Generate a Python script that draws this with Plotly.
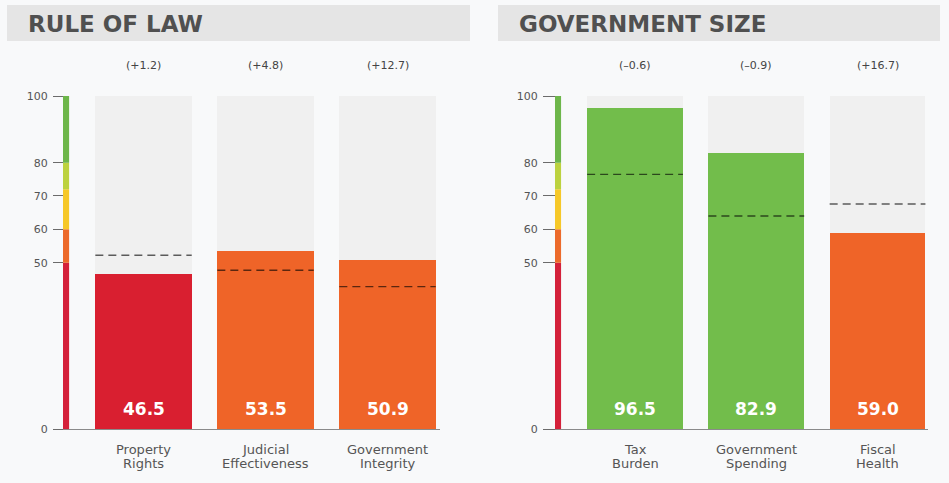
import plotly.graph_objects as go

W, H = 949, 483

# ---- data ----
panel_titles = ["RULE OF LAW", "GOVERNMENT SIZE"]
left_categories = ["Property<br>Rights", "Judicial<br>Effectiveness", "Government<br>Integrity"]
left_scores = [46.5, 53.5, 50.9]
left_changes = ["(+1.2)", "(+4.8)", "(+12.7)"]
left_averages = [52.2, 47.7, 42.8]

right_categories = ["Tax<br>Burden", "Government<br>Spending", "Fiscal<br>Health"]
right_scores = [96.5, 82.9, 59.0]
right_changes = ["(–0.6)", "(–0.9)", "(+16.7)"]
right_averages = [76.5, 64.0, 67.6]

y_ticks = [0, 50, 60, 70, 80, 100]
band_edges = [0, 50, 60, 72, 80, 100]
band_colors = ["#d4213a", "#ec6a2a", "#f6c828", "#bcd23f", "#6db64a"]
bar_band_colors = ["#d91f30", "#ef6428", "#f6c828", "#bcd23f", "#72bd4b"]

PAPER_BG = "#f8f9fa"
COL_BG = "#f0f0f0"
HEADER_BG = "#e5e5e5"
TEXT = "#555555"


def px_x(x):
    return x / W


def px_y(y):
    return 1 - y / H


def color_for(v):
    for i in range(len(band_edges) - 1):
        if v < band_edges[i + 1]:
            return bar_band_colors[i]
    return bar_band_colors[-1]


fig = go.Figure()
panels = [
    dict(cats=left_categories, scores=left_scores, changes=left_changes, avgs=left_averages,
         xa="x", ya="y", dom=(53, 440), rng=(-0.742, 2.43), ypos=63, ticklen=10, hx=(7, 470), tx=26),
    dict(cats=right_categories, scores=right_scores, changes=right_changes, avgs=right_averages,
         xa="x2", ya="y2", dom=(543, 928), rng=(-0.759, 2.416), ypos=555, ticklen=12, hx=(498, 940), tx=517),
]

shapes = []
annotations = []
BW = 0.79
for p_i, p in enumerate(panels):
    n = len(p["cats"])
    xs = list(range(n))
    # column backgrounds
    fig.add_trace(go.Bar(x=xs, y=[100] * n, width=BW, marker_color=COL_BG, marker_line_width=0,
                         xaxis=p["xa"], yaxis=p["ya"], hoverinfo="skip", showlegend=False))
    # score bars
    fig.add_trace(go.Bar(x=xs, y=p["scores"], width=BW,
                         marker_color=[color_for(v) for v in p["scores"]], marker_line_width=0,
                         xaxis=p["xa"], yaxis=p["ya"], showlegend=False))
    # average dashed lines
    for i, a in enumerate(p["avgs"]):
        fig.add_trace(go.Scatter(x=[i - BW / 2, i + BW / 2], y=[a, a], mode="lines",
                                 line=dict(color="rgba(0,0,0,0.62)", width=1.4, dash="8px,5px"),
                                 xaxis=p["xa"], yaxis=p["ya"], hoverinfo="skip", showlegend=False))
    # score strip
    for b in range(len(band_colors)):
        shapes.append(dict(type="rect", xref=p["xa"], yref=p["ya"], x0=-0.66, x1=-0.61,
                           y0=band_edges[b], y1=band_edges[b + 1], fillcolor=band_colors[b],
                           line_width=0, layer="above"))
    # header
    shapes.append(dict(type="rect", xref="paper", yref="paper", x0=px_x(p["hx"][0]), x1=px_x(p["hx"][1]),
                       y0=px_y(41), y1=px_y(5), fillcolor=HEADER_BG, line_width=0, layer="below"))
    annotations.append(dict(xref="paper", yref="paper", x=px_x(p["tx"]), y=px_y(24), xanchor="left",
                            yanchor="middle", showarrow=False, text="<b>%s</b>" % panel_titles[p_i],
                            font=dict(family="DejaVu Sans", size=23, color="#505050")))
    for i in range(n):
        # value labels
        annotations.append(dict(xref=p["xa"], yref=p["ya"], x=i, y=0, yshift=20, yanchor="middle",
                                showarrow=False, text="<b>%.1f</b>" % p["scores"][i],
                                font=dict(family="DejaVu Sans", size=17, color="white")))
        # change labels
        annotations.append(dict(xref=p["xa"], yref="paper", x=i, y=px_y(65), yanchor="middle",
                                showarrow=False, text=p["changes"][i],
                                font=dict(family="DejaVu Sans", size=11, color="#444444")))
        # category labels (two lines)
        for li, line in enumerate(p["cats"][i].split("<br>")):
            annotations.append(dict(xref=p["xa"], yref="paper", x=i, y=px_y(449 + 14 * li),
                                    yanchor="middle", showarrow=False, text=line,
                                    font=dict(family="DejaVu Sans", size=13, color=TEXT)))

    xkey = "xaxis" if p_i == 0 else "xaxis2"
    ykey = "yaxis" if p_i == 0 else "yaxis2"
    fig.layout[xkey] = dict(domain=[px_x(p["dom"][0]), px_x(p["dom"][1])], range=list(p["rng"]),
                            anchor=p["ya"], showticklabels=False, ticks="", automargin=False,
                            showgrid=False, zeroline=False, showline=True, linecolor="#8a8a8a",
                            linewidth=1, fixedrange=True)
    fig.layout[ykey] = dict(domain=[px_y(429.3), px_y(96)], range=[0, 100],
                            anchor="free", position=px_x(p["ypos"]), side="left",
                            tickvals=y_ticks, ticks="outside", ticklen=p["ticklen"], tickcolor="#6b6b6b",
                            tickwidth=1, showgrid=False, zeroline=False, showline=False,
                            ticklabelstandoff=3, automargin=False,
                            tickfont=dict(family="DejaVu Sans", size=11, color=TEXT), fixedrange=True)

fig.update_layout(
    width=W, height=H, margin=dict(l=0, r=0, t=0, b=0, pad=0, autoexpand=False),
    paper_bgcolor=PAPER_BG, plot_bgcolor="rgba(0,0,0,0)",
    barmode="overlay", bargap=0, shapes=shapes, annotations=annotations, showlegend=False,
)

post = (
    "var h=document.documentElement, b=document.body;"
    "h.style.margin='0'; h.style.padding='0'; h.style.overflow='hidden'; h.style.height='483px';"
    "b.style.margin='0'; b.style.padding='0'; b.style.overflow='hidden'; b.style.height='483px';"
    "b.style.background='" + PAPER_BG + "';"
    "if (b.firstElementChild) { b.firstElementChild.style.height='483px'; b.firstElementChild.style.overflow='hidden'; }"
)

fig.write_html("out.html", config={"displayModeBar": False}, post_script=post)
